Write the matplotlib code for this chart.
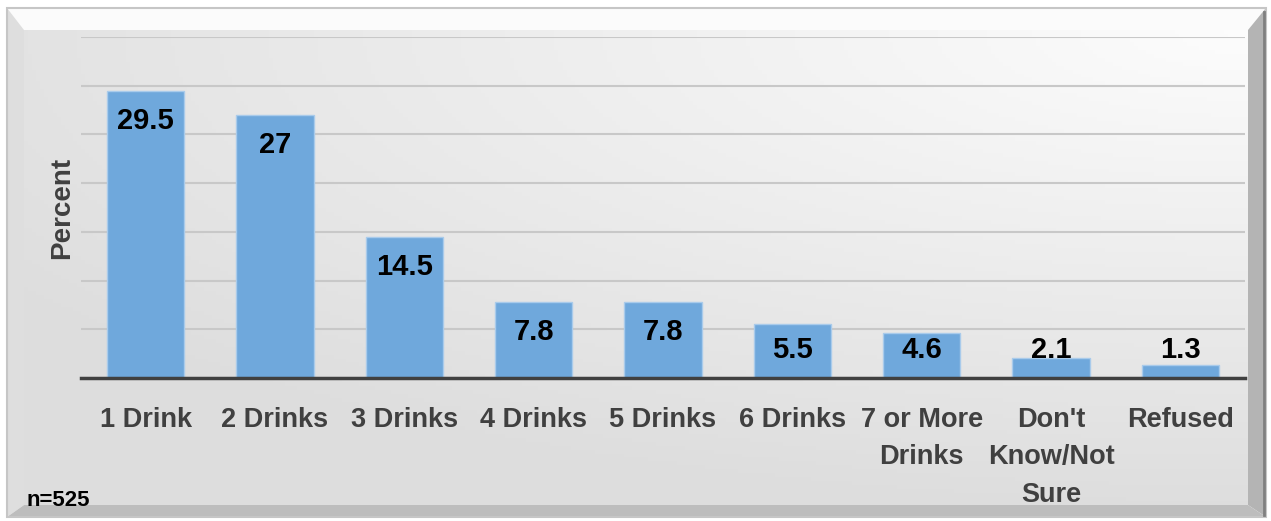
import numpy as np
import matplotlib.pyplot as plt
from matplotlib.patches import Polygon, Rectangle

plt.rcParams['font.family'] = ['Liberation Sans Narrow', 'Liberation Sans', 'DejaVu Sans']

# data
categories = ['1 Drink', '2 Drinks', '3 Drinks', '4 Drinks', '5 Drinks', '6 Drinks',
              '7 or More\nDrinks', "Don't\nKnow/Not\nSure", 'Refused']
percent = [29.5, 27, 14.5, 7.8, 7.8, 5.5, 4.6, 2.1, 1.3]
value_labels = ['29.5', '27', '14.5', '7.8', '7.8', '5.5', '4.6', '2.1', '1.3']
n_text = 'n=525'

W, H = 1271, 521
fig = plt.figure(figsize=(W / 100, H / 100), dpi=100)
fig.patch.set_facecolor('white')

# background frame (pixel coordinates)
bg = fig.add_axes([0, 0, 1, 1])
bg.set_xlim(0, W)
bg.set_ylim(H, 0)
bg.axis('off')

x0, y0, x1, y1 = 7, 8, 1266, 517      # outer edge
ix0, iy0, ix1, iy1 = 24, 30, 1248, 505  # inner edge

# gradient in the inner panel: lighter to the top right
xx, yy = np.meshgrid(np.linspace(0, 1, 300), np.linspace(0, 1, 120))
d = np.sqrt(((1 - xx) * 1.0) ** 2 + (yy * 1.2) ** 2)
shade = 0.99 - 0.12 * np.clip(d / 1.2, 0, 1)
img = np.dstack([shade, shade, shade])
bg.imshow(img, extent=(ix0, ix1, iy1, iy0), aspect='auto', zorder=0)

# bevel sides
bg.add_patch(Polygon([(x0, y0), (x1, y0), (ix1, iy0), (ix0, iy0)], closed=True,
                     facecolor='#fbfbfb', edgecolor='none', zorder=1))
bg.add_patch(Polygon([(x0, y0), (ix0, iy0), (ix0, iy1), (x0, y1)], closed=True,
                     facecolor='#dedede', edgecolor='none', zorder=1))
bg.add_patch(Polygon([(x1, y0), (x1, y1), (ix1, iy1), (ix1, iy0)], closed=True,
                     facecolor='#b4b4b4', edgecolor='none', zorder=1))
bg.add_patch(Polygon([(x0, y1), (ix0, iy1), (ix1, iy1), (x1, y1)], closed=True,
                     facecolor='#bdbdbd', edgecolor='none', zorder=1))
bg.add_patch(Rectangle((x0, y0), x1 - x0, y1 - y0, facecolor='none',
                       edgecolor='#c6c6c6', lw=1.5, zorder=2))
bg.plot([x1 - 2, x1 - 2], [y0 + 4, y1 - 2], color='#808080', lw=2, zorder=2)

# chart
ax = fig.add_axes([81 / W, 1 - 378 / H, (1245 - 81) / W, (378 - 37) / H])
ax.patch.set_alpha(0)
x = np.arange(len(categories))
ax.bar(x, percent, width=0.6, color='#6fa8dc', edgecolor='#a9cbeb', linewidth=1, zorder=3)
ax.set_xlim(-0.5, len(categories) - 0.5)
ax.set_ylim(0, 35)
ax.set_yticks(np.arange(0, 36, 5))
ax.yaxis.grid(True, color='#c8c8c8', lw=1.5, zorder=0)
ax.set_axisbelow(True)
ax.tick_params(axis='y', length=0, labelleft=False)
ax.set_xticks(x)
ax.set_xticklabels(categories, fontsize=19.5, fontweight='bold', color='#404040',
                   linespacing=1.56, va='top')
ax.tick_params(axis='x', length=0, pad=21)
for s in ['top', 'right', 'left']:
    ax.spines[s].set_visible(False)
ax.spines['bottom'].set_color('#404040')
ax.spines['bottom'].set_linewidth(2.5)
ax.spines['bottom'].set_zorder(4)

for xi, v, lab in zip(x, percent, value_labels):
    ax.text(xi, max(v - 3.1, 2.9), lab, ha='center', va='center', fontsize=21,
            fontweight='bold', color='black', zorder=5)

fig.text(62 / W, 1 - 208 / H, 'Percent', rotation=90, ha='center', va='center',
         fontsize=20, fontweight='bold', color='#404040')
fig.text(27 / W, 1 - 500 / H, n_text, ha='left', va='center', fontsize=16,
         fontweight='bold', color='black')

fig.savefig('out.png', dpi=100)
